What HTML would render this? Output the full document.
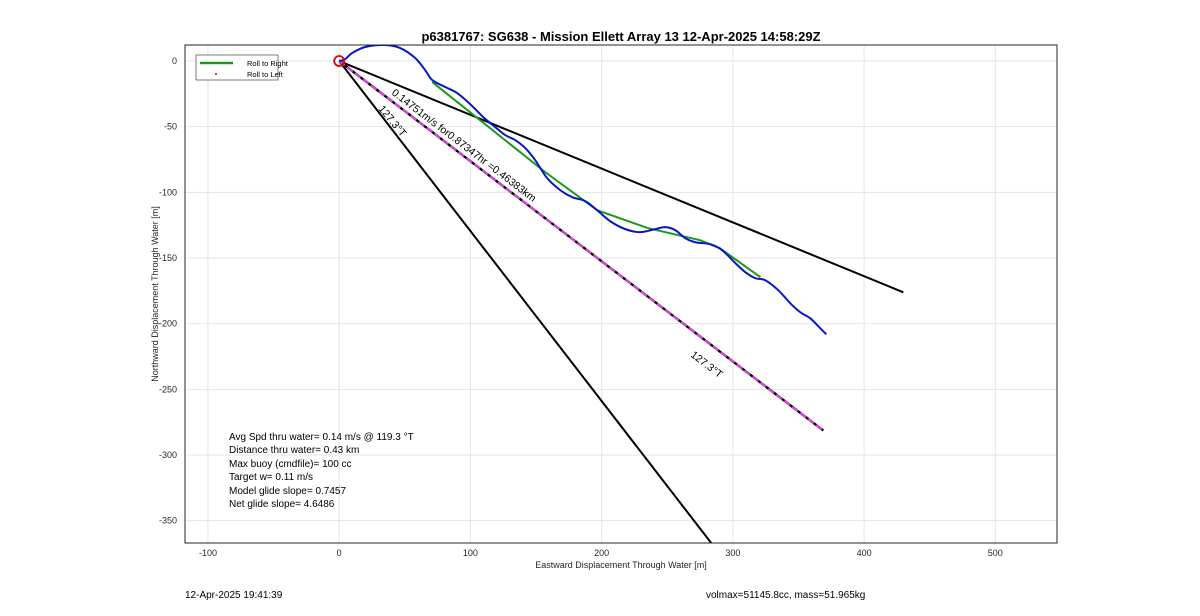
<!DOCTYPE html>
<html><head><meta charset="utf-8"><style>
body{margin:0;background:#fff;font-family:"Liberation Sans",sans-serif;}
svg text{font-family:"Liberation Sans",sans-serif;}
</style></head><body>
<svg id="chart" width="1200" height="611" xmlns="http://www.w3.org/2000/svg">
<rect x="0" y="0" width="1200" height="611" fill="#fff"/>
<g id="grid"></g>
<g id="plot"></g>
<rect x="185" y="45" width="872" height="498" fill="none" stroke="#262626" stroke-width="1"/>
<g id="ticks"></g>
<text x="621" y="41" text-anchor="middle" font-size="13" font-weight="bold" fill="#000">p6381767: SG638 - Mission Ellett Array 13 12-Apr-2025 14:58:29Z</text>
<text x="621" y="568" text-anchor="middle" font-size="9" fill="#262626">Eastward Displacement Through Water [m]</text>
<text transform="translate(158,294) rotate(-90)" text-anchor="middle" font-size="9" fill="#262626">Northward Displacement Through Water [m]</text>
<g>
<rect x="196" y="55" width="82" height="25" fill="#fff" stroke="#262626" stroke-width="0.6"/>
<line x1="200" y1="63" x2="233" y2="63" stroke="#1a9a1a" stroke-width="2.5"/>
<text x="247" y="66" font-size="7.5" fill="#000">Roll to Right</text>
<circle cx="216" cy="74" r="1" fill="#d00"/>
<text x="247" y="77" font-size="7.5" fill="#000">Roll to Left</text>
</g>
<g font-size="10" fill="#000">
<text x="229" y="440">Avg Spd thru water=  0.14 m/s @ 119.3 °T</text>
<text x="229" y="453">Distance thru water=  0.43 km</text>
<text x="229" y="467">Max buoy (cmdfile)= 100 cc</text>
<text x="229" y="480">Target w= 0.11 m/s</text>
<text x="229" y="494">Model glide slope= 0.7457</text>
<text x="229" y="507">Net glide slope= 4.6486</text>
</g>
<text x="185" y="598" font-size="10" fill="#000">12-Apr-2025 19:41:39</text>
<text x="706" y="598" font-size="10" fill="#000">volmax=51145.8cc, mass=51.965kg</text>
</svg>
<script>
const xTicks=[-100,0,100,200,300,400,500];
const yTicks=[0,-50,-100,-150,-200,-250,-300,-350];
const blueX=[0,4.6,9.9,19.8,34.3,46.5,57.9,65.5,70.9,80.8,89.9,99.8,109.8,118.9,126.5,134.1,141.8,149.4,158.5,168.4,177.6,187.5,196.6,206.6,218.0,229.4,240.9,248.5,256.1,263.7,271.3,282.8,291.9,302.0,309.5,317.1,324.7,334.6,343.8,351.4,359.0,366.6,371.2];
const blueY=[0,1.5,6.1,10.7,12.2,9.9,2.3,-6.9,-14.5,-19.8,-24.4,-32.8,-42.7,-50.3,-56.4,-60.2,-66.3,-75.5,-89.2,-98.3,-103.7,-106.7,-113.6,-122.0,-128.0,-130.3,-128.0,-126.5,-128.8,-134.9,-138.0,-139.5,-144.1,-154.0,-160.8,-165.4,-166.9,-174.5,-184.5,-191.3,-195.9,-203.5,-208.1];
const greenX=[70.9,157,196.6,235.5,275,290,321];
const greenY=[-16,-84.6,-113.6,-127.3,-136.4,-142.5,-164.6];
const lineEndsX=[429.9,283.5];
const lineEndsY=[-176.1,-367];
const headingEndX=368.9, headingEndY=-281.3;
const X0=185,X1=1057,Y0=45,Y1=543,xmin=-117.5,xmax=547,ymin=-367,ymax=12.2;
function sx(v){return X0+(v-xmin)/(xmax-xmin)*(X1-X0);}
function sy(v){return Y1-(v-ymin)/(ymax-ymin)*(Y1-Y0);}
const NS="http://www.w3.org/2000/svg";
function mk(tag,parent,attrs){const e=document.createElementNS(NS,tag);for(const k in attrs)e.setAttribute(k,attrs[k]);parent.appendChild(e);return e;}
function smoothPath(xs,ys){
 const p=xs.map((x,i)=>[sx(x),sy(ys[i])]);
 let d='M'+p[0][0]+','+p[0][1];
 for(let i=0;i<p.length-1;i++){
  const p0=p[Math.max(i-1,0)],p1=p[i],p2=p[i+1],p3=p[Math.min(i+2,p.length-1)];
  const c1=[p1[0]+(p2[0]-p0[0])/6,p1[1]+(p2[1]-p0[1])/6];
  const c2=[p2[0]-(p3[0]-p1[0])/6,p2[1]-(p3[1]-p1[1])/6];
  d+=` C${c1[0]},${c1[1]} ${c2[0]},${c2[1]} ${p2[0]},${p2[1]}`;
 }
 return d;
}
const grid=document.getElementById('grid'),ticks=document.getElementById('ticks'),plot=document.getElementById('plot');
xTicks.forEach(t=>{
 const g=mk('line',grid,{x1:sx(t),x2:sx(t),y1:Y0,y2:Y1,stroke:'#e6e6e6','stroke-width':1});
 
 
 const l=mk('text',ticks,{x:sx(t),y:Y1+13,'text-anchor':'middle','font-size':9,fill:'#262626'});
 l.textContent=t;
 
 
});
yTicks.forEach(t=>{
 const g=mk('line',grid,{x1:X0,x2:X1,y1:sy(t),y2:sy(t),stroke:'#e6e6e6','stroke-width':1});
 
 
 const l=mk('text',ticks,{x:X0-8,y:sy(t)+3,'text-anchor':'end','font-size':9,fill:'#262626'});
 l.textContent=t;
 
 
});
const clip=mk('clipPath',plot,{id:'cp'});mk('rect',clip,{x:X0,y:Y0,width:X1-X0,height:Y1-Y0});
const pg=mk('g',plot,{'clip-path':'url(#cp)'});
lineEndsX.forEach((ex,i)=>{
 const l=mk('line',pg,{x1:sx(0),y1:sy(0),x2:sx(ex),y2:sy(lineEndsY[i]),stroke:'#000','stroke-width':2});
 
 
});
const h1=mk('line',pg,{x1:sx(0),y1:sy(0),x2:sx(headingEndX),y2:sy(headingEndY),stroke:'#000','stroke-width':2.4});


const h2=mk('line',pg,{x1:sx(0),y1:sy(0),x2:sx(headingEndX),y2:sy(headingEndY),stroke:'#e040e0','stroke-width':2.2,'stroke-dasharray':'7 3'});


const gp=mk('polyline',pg,{points:greenX.map((x,i)=>sx(x)+','+sy(greenY[i])).join(' '),fill:'none',stroke:'#1a9a1a','stroke-width':2});


const bp=mk('path',pg,{d:smoothPath(blueX,blueY),fill:'none',stroke:'#0a14c8','stroke-width':2,'stroke-linejoin':'round'});


const c=mk('circle',pg,{cx:sx(0),cy:sy(0),r:5,fill:'none',stroke:'#e00','stroke-width':1.8});


const ang=Math.atan2(sy(headingEndY)-sy(0),sx(headingEndX)-sx(0))*180/Math.PI;
function lab(txt,x,y,a,name){const t=mk('text',plot,{x:x,y:y,'font-size':10.5,fill:'#000',transform:`rotate(${a} ${x} ${y})`});t.textContent=txt;}
lab('0.14751m/s for0.87347hr =0.46383km',391,94,ang,'speed-label');
lab('127.3°T',378,109,ang+13,'heading-label-1');
lab('127.3°T',690,356,ang,'heading-label-2');
</script>
</body></html>
